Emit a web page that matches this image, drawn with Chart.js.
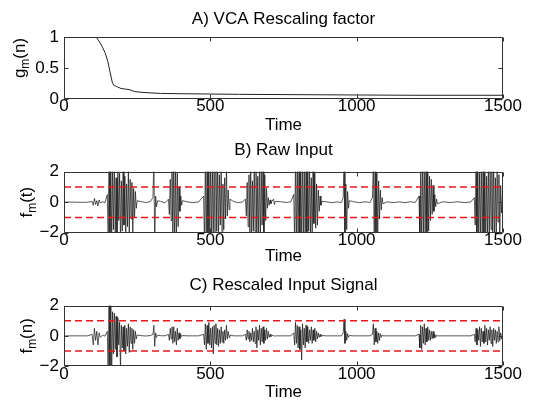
<!DOCTYPE html>
<html>
<head>
<meta charset="utf-8">
<script src="https://cdn.jsdelivr.net/npm/chart.js@4.4.1/dist/chart.umd.min.js"></script>
<style>
  body { margin: 0; background: #fff; width: 550px; height: 407px; position: relative; overflow: hidden; }
  canvas { position: absolute; left: 0; }
</style>
</head>
<body>
<canvas id="chartGain" width="550" height="140" style="top:0px"></canvas>
<canvas id="chartRaw" width="550" height="140" style="top:130px"></canvas>
<canvas id="chartScaled" width="550" height="142" style="top:265px"></canvas>
<script>
// A) rescaling factor
const gainTime  = [0, 100, 110, 120, 130, 140, 150, 158, 165, 170, 180, 195, 210, 225, 240, 260, 290, 330, 400, 500, 600, 800, 1000, 1200, 1500];
const gainValue = [1, 1, 1, 0.93, 0.85, 0.75, 0.6, 0.42, 0.27, 0.22, 0.2, 0.17, 0.16, 0.15, 0.12, 0.11, 0.1, 0.09, 0.085, 0.08, 0.075, 0.07, 0.065, 0.06, 0.06];

// B) raw input and C) rescaled input, same sample times
const sigTime = [
  0, 20, 40, 60, 80,
  96, 100, 104, 108, 112, 116, 120, 124,
  132, 140,
  148, 151, 154, 157, 160, 163, 166, 169, 172, 175, 178, 181, 184, 187, 190, 193, 196, 199, 202, 205, 208, 211, 214, 217, 220, 223, 226, 229, 232, 235, 238, 241, 244, 247, 250,
  265, 280, 295,
  304, 307, 310, 313, 316, 320,
  330, 345,
  357, 360, 363, 366, 369, 372, 375, 378, 381, 384, 387, 390, 393, 396, 399, 402, 405,
  420, 440, 460,
  477, 480, 483, 486, 489, 492, 495, 498, 501, 504, 507, 510, 513, 516, 519, 522, 525, 528, 531, 534, 537, 540, 543, 546, 549, 552, 555, 558, 561, 564, 567,
  580, 595, 610,
  620, 623, 626, 629, 632, 635, 638, 641, 644, 647, 650, 653, 656, 659, 662, 665, 668, 671, 674, 677, 680, 683, 686, 689, 692, 695, 698, 701, 704, 707, 710,
  716, 719, 722,
  740, 760, 775,
  785, 788, 791, 794, 797, 800, 803, 806, 809, 812, 815, 818, 821, 824, 827, 830, 833, 836, 839, 842, 845, 848, 851, 854, 857, 860, 863, 866, 869, 872, 875, 878, 881,
  895, 915, 935, 948,
  954, 957, 960, 963, 966, 969, 972, 975,
  990, 1010, 1030, 1045,
  1054, 1057, 1060, 1063, 1066, 1069, 1072, 1075, 1078, 1081, 1084, 1087, 1090,
  1105, 1125, 1145, 1165, 1185, 1200,
  1213, 1216, 1219, 1222, 1225, 1228, 1231, 1234, 1237, 1240, 1243, 1246, 1249, 1252, 1255, 1258, 1261, 1264, 1267, 1270, 1273, 1276,
  1295, 1320, 1345, 1370, 1390,
  1402, 1405, 1408, 1411, 1414, 1417, 1420, 1423, 1426, 1429, 1432, 1435, 1438, 1441, 1444, 1447, 1450, 1453, 1456, 1459, 1462, 1465, 1468, 1471, 1474, 1477, 1480, 1483, 1486, 1489, 1492, 1495, 1498, 1500
];

const rawInput = [
  0, 0.01, 0, -0.01, 0,
  0.05, -0.2, 0.25, -0.15, 0.1, -0.25, 0.15, -0.05,
  0.03, -0.03,
  0.5, -2.6, 2.8, -2.4, 2.5, -2.7, 2.2, -1.8, 2.6, -2.3, 1.6, -2.5, 2.4, -1.2, 1.9, -2.6, 1.4, -1.9, 2.3, -1.5, 1.7, -2.4, 1.2, -1.6, 2.1, -2.2, 1.5, -1.1, 1.3, -2.3, 0.9, -1.0, 0.7, -0.4, 0.1,
  0.03, -0.02, 0.04,
  0.3, 2.8, -2.9, 0.4, -0.3, 0.1,
  0.05, -0.04,
  0.2, -0.8, 1.5, -1.2, 2.4, -2.6, 2.7, -2.5, 2.3, -2.8, 1.9, -1.6, 1.0, -0.6, 0.4, -0.2, 0.1,
  0.03, -0.03, 0.02,
  0.4, -2.7, 2.9, -2.5, 2.8, -2.9, 2.6, -2.4, 2.7, -2.8, 2.5, -2.6, 2.2, -2.9, 2.4, -1.9, 2.6, -2.3, 1.8, -1.5, 2.1, -2.4, 1.2, -1.8, 1.6, -1.1, 2.3, -0.9, 0.8, -0.5, 0.2,
  0.04, -0.03, 0.02,
  0.2, -0.9, 1.3, -1.6, 1.8, -2.2, 2.5, -2.7, 1.4, -1.9, 2.6, -2.4, 2.8, -2.6, 1.7, -2.3, 2.9, -2.8, 2.4, -1.5, 2.6, -2.9, 1.8, -1.2, 0.9, -0.4, 0.3, -0.2, 0.15, -0.1, 0.05,
  0.2, -0.15, 0.05,
  0.03, -0.02, 0.03,
  0.5, -2.8, 2.9, -2.7, 2.6, -2.9, 2.8, -2.5, 2.3, -2.7, 2.9, -2.6, 2.4, -2.8, 2.1, -2.4, 2.7, -1.9, 2.5, -2.2, 1.6, -2.6, 2.3, -1.4, 1.9, -1.7, 1.2, -1.5, 0.8, -0.6, 0.4, -0.2, 0.05,
  0.03, -0.03, 0.02, -0.02,
  0.3, 2.8, -2.7, 1.2, -1.8, 0.7, -0.4, 0.1,
  0.03, -0.03, 0.03, -0.02,
  0.3, 2.7, -2.8, 2.5, -2.6, 1.9, -2.2, 1.4, -1.1, 0.8, -0.5, 0.3, -0.1,
  0.03, -0.03, 0.02, -0.03, 0.03, -0.02,
  0.4, -2.6, 2.8, -2.9, 2.7, -2.5, 2.9, -2.8, 2.6, -2.7, 2.4, -1.9, 1.7, -1.2, 1.5, -0.8, 1.1, -0.6, 0.5, -0.3, 0.2, -0.1,
  0.03, -0.02, 0.03, -0.03, 0.02,
  0.3, -1.5, 2.4, -2.7, 2.8, -2.6, 1.9, -2.4, 2.7, -2.9, 2.5, -2.2, 2.8, -2.6, 1.7, -2.3, 2.6, -2.8, 2.4, -1.8, 2.2, -2.7, 2.9, -2.5, 1.6, -2.1, 2.4, -1.3, 1.8, -2.6, 1.1, -0.7, 0.4, 0.1
];

const rescaledInput = [
  0, 0, 0, 0, 0,
  0.1, -0.6, 0.5, -0.3, 0.3, -0.6, 0.2, -0.1,
  0.04, -0.02,
  0.3, -2.8, 3.0, -3.0, 2.9, -2.8, 1.6, -1.2, 1.5, -0.9, 1.3, -1.4, 1.2, -0.6, 0.9, -2.3, 0.7, -0.8, 0.6, -1.0, 0.7, -1.2, 0.5, -0.7, 0.8, -1.1, 0.6, -0.5, 0.5, -0.9, 0.4, -0.5, 0.3, -0.2, 0.05,
  0.01, -0.01, 0.02,
  0.1, 0.7, -0.7, 0.2, -0.1, 0.05,
  0.01, 0,
  0.1, -0.3, 0.5, -0.2, 0.6, -0.5, 0.6, -0.4, 0.3, -0.6, 0.5, -0.3, 0.2, -0.2, 0.1, -0.05, 0.02,
  0, 0, 0,
  0.1, -0.6, 0.8, -0.9, 0.7, -0.5, 0.9, -0.6, 0.5, -0.8, 0.6, -1.2, 0.7, -0.5, 0.8, -0.6, 0.5, -0.7, 0.4, -0.5, 0.6, -0.4, 0.3, -0.5, 0.4, -0.3, 0.7, -0.2, 0.3, -0.1, 0.05,
  0, 0, 0,
  0.1, -0.3, 0.4, -0.2, 0.3, -0.4, 0.2, -0.3, 0.5, -0.4, 0.3, -0.5, 0.6, -0.8, 0.4, -0.3, 0.7, -0.6, 0.5, -0.4, 0.6, -0.5, 0.4, -0.3, 0.5, -0.2, 0.3, -0.1, 0.1, -0.05, 0.02,
  0.02, -0.02, 0,
  0, 0, 0,
  0.2, -0.6, 0.9, -0.5, 0.7, -0.8, 0.6, -0.9, 0.4, -1.6, 0.8, -0.6, 0.5, -0.8, 0.7, -0.4, 0.6, -0.5, 0.4, -0.3, 0.6, -0.5, 0.4, -0.3, 0.5, -0.4, 0.3, -0.2, 0.2, -0.1, 0.1, -0.05, 0.02,
  0, 0, 0, 0,
  0.2, 1.1, -0.5, 0.3, -0.3, 0.15, -0.1, 0.02,
  0, 0, 0, 0,
  0.1, 0.8, -0.6, 0.5, -0.4, 0.3, -0.5, 0.2, -0.3, 0.15, -0.1, 0.05, 0,
  0, 0, 0, 0, 0, 0,
  0.1, -0.8, 0.7, -0.9, 0.6, -0.5, 0.8, -0.6, 0.5, -0.4, 0.6, -0.3, 0.4, -0.3, 0.3, -0.2, 0.3, -0.15, 0.1, -0.1, 0.05, 0,
  0, 0, 0, 0, 0,
  0.1, -0.4, 0.5, -0.6, 0.4, -0.3, 0.6, -0.7, 0.5, -0.4, 0.3, -0.5, 0.7, -0.4, 0.5, -0.6, 0.4, -0.3, 0.6, -0.5, 0.4, -0.7, 0.5, -0.3, 0.4, -0.5, 0.3, -0.4, 0.6, -0.3, 0.2, -0.2, 0.1, 0.02
];

const thresholds = [1, -1];
const xTicks = [0, 500, 1000, 1500];
const gainTicks = [0, 0.5, 1];
const sigTicks = [-2, 0, 2];

const FONT = '"Liberation Sans", Arial, Helvetica, sans-serif';
const FS = 17;

// matlab style box with inward ticks
const axesBox = {
  id: 'axesBox',
  afterDatasetsDraw(chart) {
    const { ctx, chartArea: a, scales } = chart;
    const L = Math.round(a.left) + 0.5, R = Math.round(a.right) - 0.5;
    const T = Math.round(a.top) + 0.5, B = Math.round(a.bottom) - 0.5;
    ctx.save();
    ctx.strokeStyle = '#333';
    ctx.lineWidth = 1;
    ctx.beginPath();
    ctx.rect(L, T, R - L, B - T);
    scales.x.ticks.forEach(t => {
      const px = Math.round(scales.x.getPixelForValue(t.value)) + 0.5;
      ctx.moveTo(px, B); ctx.lineTo(px, B - 4);
      ctx.moveTo(px, T); ctx.lineTo(px, T + 4);
    });
    scales.y.ticks.forEach(t => {
      const py = Math.round(scales.y.getPixelForValue(t.value)) + 0.5;
      ctx.moveTo(L, py); ctx.lineTo(L + 4, py);
      ctx.moveTo(R, py); ctx.lineTo(R - 4, py);
    });
    ctx.stroke();
    ctx.restore();
  }
};

// y label with a subscript, e.g. g_m(n)
const subscriptLabel = {
  id: 'subscriptLabel',
  afterDraw(chart, args, opts) {
    const { ctx, chartArea: a } = chart;
    const big = FS + 'px ' + FONT, small = '12px ' + FONT;
    ctx.save();
    ctx.font = big;
    const w1 = ctx.measureText(opts.base).width;
    const w3 = ctx.measureText(opts.tail).width;
    ctx.font = small;
    const w2 = ctx.measureText(opts.sub).width;
    ctx.translate(opts.x, (a.top + a.bottom) / 2 + opts.shift);
    ctx.rotate(-Math.PI / 2);
    ctx.fillStyle = '#000';
    ctx.textAlign = 'left';
    ctx.textBaseline = 'alphabetic';
    let x = -(w1 + w2 + w3) / 2;
    ctx.font = big; ctx.fillText(opts.base, x, 0); x += w1;
    ctx.font = small; ctx.fillText(opts.sub, x, 4); x += w2;
    ctx.font = big; ctx.fillText(opts.tail, x, 0);
    ctx.restore();
  }
};

function lineSet(times, values, color, width, dash) {
  return {
    data: times.map((t, i) => ({ x: t, y: values[i] })),
    borderColor: color,
    borderWidth: width,
    borderDash: dash || [],
    pointRadius: 0,
    tension: 0,
    fill: false
  };
}

function thresholdSets() {
  const ends = [xTicks[0], xTicks[xTicks.length - 1]];
  return thresholds.map(v => lineSet(ends, ends.map(() => v), '#e8191b', 1.4, [7, 4]));
}

function makeChart(id, box, datasets, yTicks, title, label) {
  new Chart(document.getElementById(id), {
    type: 'line',
    data: { datasets },
    plugins: [axesBox, subscriptLabel],
    options: {
      responsive: false,
      animation: false,
      events: [],
      layout: { padding: { left: 0, right: 47, top: 0, bottom: 0 } },
      plugins: {
        legend: { display: false },
        tooltip: { enabled: false },
        title: {
          display: true,
          fullSize: false,
          text: title,
          color: '#000',
          font: { family: FONT, size: FS, weight: 'normal', lineHeight: 1.2 },
          padding: { top: box.titleTop, bottom: box.titleBottom }
        },
        subscriptLabel: label
      },
      scales: {
        x: {
          type: 'linear',
          min: xTicks[0],
          max: xTicks[xTicks.length - 1],
          afterBuildTicks: s => { s.ticks = xTicks.map(v => ({ value: v })); },
          afterFit: s => { s.height = box.xHeight; },
          grid: { display: false, drawTicks: false },
          border: { display: false },
          ticks: {
            color: '#000',
            padding: box.tickPad,
            maxRotation: 0,
            font: { family: FONT, size: FS, lineHeight: 1 },
            callback: v => String(v)
          },
          title: {
            display: true,
            text: 'Time',
            color: '#000',
            font: { family: FONT, size: FS, lineHeight: 1.2 },
            padding: { top: 0, bottom: box.timePad }
          }
        },
        y: {
          min: yTicks[0],
          max: yTicks[yTicks.length - 1],
          afterBuildTicks: s => { s.ticks = yTicks.map(v => ({ value: v })); },
          afterFit: s => { s.width = 64; },
          grid: { display: false, drawTicks: false },
          border: { display: false },
          ticks: {
            color: '#000',
            padding: 5,
            font: { family: FONT, size: FS },
            callback: v => String(v).replace('-', '\u2212')
          }
        }
      }
    }
  });
}

makeChart('chartGain',
  { titleTop: 9.3, titleBottom: 7.3, xHeight: 41, tickPad: -1.5, timePad: 4.8 },
  [lineSet(gainTime, gainValue, '#222', 1)],
  gainTicks, 'A) VCA Rescaling factor',
  { base: 'g', sub: 'm', tail: '(n)', x: 25, shift: -10 });

makeChart('chartRaw',
  { titleTop: 9.8, titleBottom: 11.5, xHeight: 37.3, tickPad: -0.5, timePad: 3.3 },
  thresholdSets().concat([lineSet(sigTime, rawInput, '#111', 0.7)]),
  sigTicks, 'B) Raw Input',
  { base: 'f', sub: 'm', tail: '(t)', x: 32, shift: 0 });

makeChart('chartScaled',
  { titleTop: 9.8, titleBottom: 10.5, xHeight: 41, tickPad: 0, timePad: 4.8 },
  thresholdSets().concat([lineSet(sigTime, rescaledInput, '#111', 0.7)]),
  sigTicks, 'C) Rescaled Input Signal',
  { base: 'f', sub: 'm', tail: '(n)', x: 32, shift: 0 });
</script>
</body>
</html>
